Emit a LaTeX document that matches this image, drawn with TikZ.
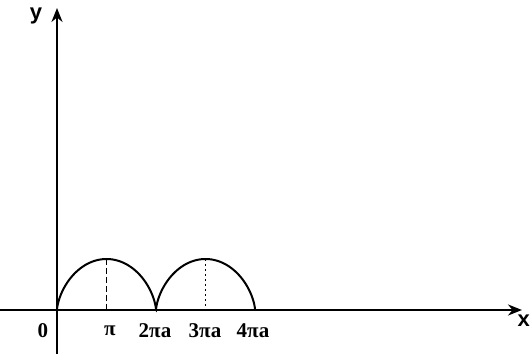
\documentclass[tikz,border=0pt]{standalone}
\usepackage{fontspec}
\setmainfont{Liberation Serif}
\setsansfont{Liberation Sans}
\usetikzlibrary{arrows.meta}
\definecolor{cizgiSiyah}{HTML}{000000}
\tikzset{
  eksen/.style={cizgiSiyah,line width=2.2pt,-{Stealth[length=14pt,width=11pt]}},
  egri/.style={cizgiSiyah,line width=2pt},
  etiket/.style={font=\fontsize{21}{24}\selectfont\bfseries,inner sep=0pt},
  harf/.style={font=\fontsize{22}{24}\selectfont\sffamily\bfseries,inner sep=0pt}
}

\begin{document}
\begin{tikzpicture}[x=1pt,y=1pt]
\useasboundingbox (0,0) rectangle (531,354);
% eksenler
\coordinate (xbas) at (0,44);
\coordinate (xuc) at (522,44);
\coordinate (ybas) at (57,0);
\coordinate (yuc) at (57,346);
\draw[eksen] (xbas) -- (xuc);
\draw[eksen] (ybas) -- (yuc);
\node[harf,anchor=east] (xlab) at (530,33) {x};
\node[harf] (ylab) at (36,338) {y};
% sikloid, iki kemer
\draw[egri,domain=0:12.566,samples=200]
  plot ({57+15.76*(\x-sin(\x r))},{44+25.5*(1-cos(\x r))});
% tepe noktalari
\coordinate (tepe1) at (106.5,95);
\coordinate (ayak1) at (106.5,44);
\coordinate (tepe2) at (205.5,95);
\coordinate (ayak2) at (205.5,44);
\draw[cizgiSiyah,line width=1.8pt,dash pattern=on 6pt off 3pt] (tepe1) -- (ayak1);
\draw[cizgiSiyah,line width=1.8pt,dash pattern=on 2pt off 3pt] (tepe2) -- (ayak2);
% eksen etiketleri
\node[etiket] (sifir) at (43,23) {0};
\node[etiket] (pi) at (110,23) {π};
\node[etiket] (ikipia) at (155,23) {2πa};
\node[etiket] (ucpia) at (205,23) {3πa};
\node[etiket] (dortpia) at (253,23) {4πa};
\end{tikzpicture}
\end{document}
